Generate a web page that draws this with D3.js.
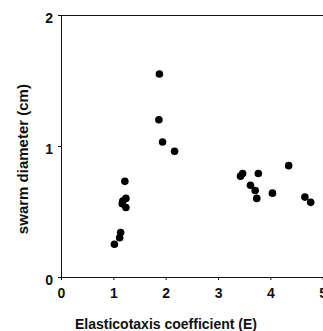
<!DOCTYPE html>
<html>
<head>
<meta charset="utf-8">
<script src="https://cdn.jsdelivr.net/npm/d3@7"></script>
<style>
  html, body { margin: 0; padding: 0; background: #fff; }
  svg { display: block; }
  text { font-family: "Liberation Sans", Arial, sans-serif; font-weight: 700; fill: #111; }
</style>
</head>
<body>
<div id="chart"></div>
<script>
// ---- data ----
const elasticotaxis = [1.02, 1.12, 1.14, 1.22, 1.18, 1.24, 1.24, 1.17,
  1.88, 1.87, 1.94, 2.17, 3.43, 3.47, 3.77, 3.62, 3.71, 3.74, 4.04, 4.35, 4.66, 4.77];
const swarmDiameter = [0.25, 0.30, 0.34, 0.73, 0.58, 0.60, 0.53, 0.56,
  1.55, 1.20, 1.03, 0.96, 0.77, 0.79, 0.79, 0.70, 0.66, 0.60, 0.64, 0.85, 0.61, 0.57];
const xTicks = [0, 1, 2, 3, 4, 5];
const yTicks = [0, 1, 2];

const points = elasticotaxis.map((e, i) => ({ e, d: swarmDiameter[i] }));

const W = 323, H = 331;
const margin = { top: 15, right: 0, bottom: 54, left: 61 };
const width = W - margin.left - margin.right;
const height = H - margin.top - margin.bottom;

const svg = d3.select("#chart").append("svg")
  .attr("width", W)
  .attr("height", H);

const g = svg.append("g")
  .attr("transform", `translate(${margin.left},${margin.top})`);

const x = d3.scaleLinear().domain([0, 5]).range([0, 261.7]);
const y = d3.scaleLinear().domain([0, 2]).range([height, 0]);

// ---- axes ----
const xAxis = g.append("g")
  .attr("transform", `translate(0,${height})`)
  .call(d3.axisBottom(x).tickValues(xTicks).tickSize(3).tickPadding(8).tickFormat(d3.format("d")));
xAxis.select(".domain").attr("d", `M0,0.5H${width}`).attr("stroke", "#111");
xAxis.selectAll("line").attr("stroke", "#111");
xAxis.selectAll("text").style("font-size", "14px").attr("font-family", null).attr("fill", "#111");

const yAxis = g.append("g")
  .call(d3.axisLeft(y).tickValues(yTicks).tickSize(3).tickPadding(5).tickFormat(d3.format("d")));
yAxis.select(".domain").attr("d", `M0.5,0V${height}`).attr("stroke", "#111");
yAxis.selectAll("line").attr("stroke", "#111");
yAxis.selectAll("text").style("font-size", "14px").attr("font-family", null).attr("fill", "#111")
  .attr("dy", "0.55em");

// top frame line
g.append("line")
  .attr("x1", 0).attr("x2", width)
  .attr("y1", 0.5).attr("y2", 0.5)
  .attr("stroke", "#111");

// ---- points ----
g.selectAll("circle")
  .data(points)
  .enter()
  .append("circle")
  .attr("cx", d => x(d.e))
  .attr("cy", d => y(d.d))
  .attr("r", 3.8)
  .attr("fill", "#000");

// ---- labels ----
svg.append("text")
  .attr("transform", `translate(28,${margin.top + height * 0.55}) rotate(-90)`)
  .attr("text-anchor", "middle")
  .style("font-size", "15px")
  .text("swarm diameter (cm)");

svg.append("text")
  .attr("x", 166)
  .attr("y", 329)
  .attr("text-anchor", "middle")
  .style("font-size", "14px")
  .text("Elasticotaxis coefficient (E)");
</script>
</body>
</html>
